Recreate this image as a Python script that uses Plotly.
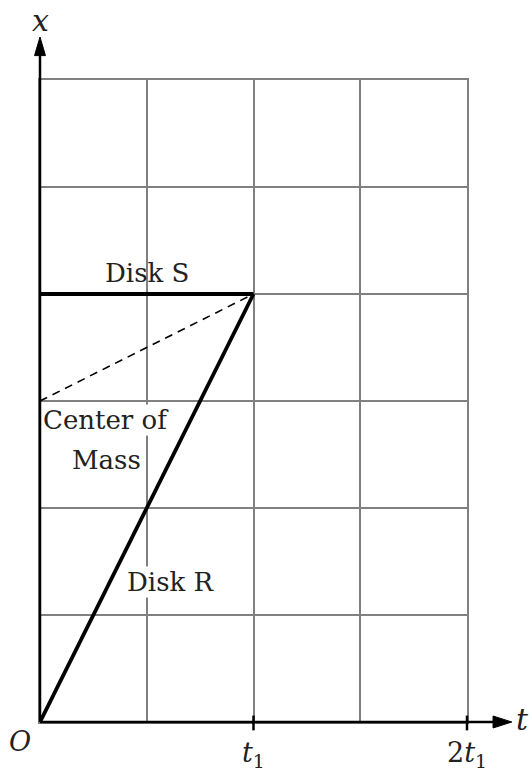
import plotly.graph_objects as go

# time in units of t1, position in grid units
t = [0, 1]
disk_s = [4, 4]
disk_r = [0, 4]
center_of_mass = [3, 4]
tick_vals = [1, 2]
tick_text = ["<i>t</i><sub>1</sub>", "2<i>t</i><sub>1</sub>"]

T_MAX, X_MAX = 2, 6          # axis ranges
FONT = "DejaVu Serif"
INK = "#222222"

fig = go.Figure()
fig.add_trace(go.Scatter(x=t, y=center_of_mass, mode="lines",
                         line=dict(color="black", width=1.6, dash="8px,6px"),
                         hoverinfo="skip"))
fig.add_trace(go.Scatter(x=t, y=disk_s, mode="lines",
                         line=dict(color="black", width=3.8), hoverinfo="skip"))
fig.add_trace(go.Scatter(x=t, y=disk_r, mode="lines",
                         line=dict(color="black", width=3.8), hoverinfo="skip"))

# axis lines with arrowheads, in paper units (they run past the plot area)
ax_line = dict(color="black", width=2.5)
fig.add_shape(type="line", xref="paper", yref="paper", x0=0, y0=0, x1=1.07, y1=0,
              line=ax_line)
fig.add_shape(type="line", xref="paper", yref="paper", x0=0, y0=0, x1=0, y1=1.045,
              line=ax_line)
fig.add_shape(type="path", xref="paper", yref="paper",
              path="M 1.105 0 L 1.061 0.0093 L 1.061 -0.0093 Z",
              fillcolor="black", line=dict(color="black", width=1))
fig.add_shape(type="path", xref="paper", yref="paper",
              path="M 0 1.067 L -0.0128 1.038 L 0.0128 1.038 Z",
              fillcolor="black", line=dict(color="black", width=1))

# tick marks on the time axis
for v in tick_vals:
    fig.add_shape(type="line", x0=v / T_MAX, x1=v / T_MAX, y0=-0.013, y1=0.010,
                  xref="paper", yref="paper", line=dict(color="black", width=2.5))

centered = dict(xref="paper", yref="paper", showarrow=False,
                xanchor="center", yanchor="middle")

# tick labels
for v, txt in zip(tick_vals, tick_text):
    fig.add_annotation(x=v / T_MAX, y=-0.05, text=txt,
                       font=dict(family=FONT, size=27, color=INK), **centered)

# axis labels and origin
fig.add_annotation(x=0.002, y=1.093, text="<i>x</i>",
                   font=dict(family=FONT, size=30, color=INK), **centered)
fig.add_annotation(x=1.13, y=0.004, text="<i>t</i>",
                   font=dict(family=FONT, size=30, color=INK), **centered)
fig.add_annotation(x=-0.047, y=-0.03, text="<i>O</i>",
                   font=dict(family=FONT, size=27, color=INK), **centered)

# curve labels
lab = dict(family=FONT, size=26, color=INK)
fig.add_annotation(x=0.5, y=4.2, xref="x", yref="y", text="Disk S", showarrow=False,
                   font=lab)
fig.add_annotation(x=0.31, y=2.82, xref="x", yref="y", text="Center of",
                   showarrow=False, font=lab, bgcolor="white", borderpad=0)
fig.add_annotation(x=0.31, y=2.45, xref="x", yref="y", text="Mass",
                   showarrow=False, font=lab, bgcolor="white", borderpad=0)
fig.add_annotation(x=0.615, y=1.31, xref="x", yref="y", text="Disk R", showarrow=False,
                   font=lab, bgcolor="white", borderpad=0)

grid = dict(showgrid=True, gridcolor="#808080", gridwidth=2, zeroline=False,
            showline=True, linecolor="#808080", linewidth=2, mirror=True,
            showticklabels=False, ticks="")
fig.update_xaxes(range=[0, T_MAX], dtick=0.5, tick0=0, **grid)
fig.update_yaxes(range=[0, X_MAX], dtick=1, tick0=0, **grid)

fig.update_layout(width=529, height=772, showlegend=False,
                  margin=dict(l=40, r=62, t=80, b=50),
                  plot_bgcolor="white", paper_bgcolor="white")

fig.write_html("out.html")
